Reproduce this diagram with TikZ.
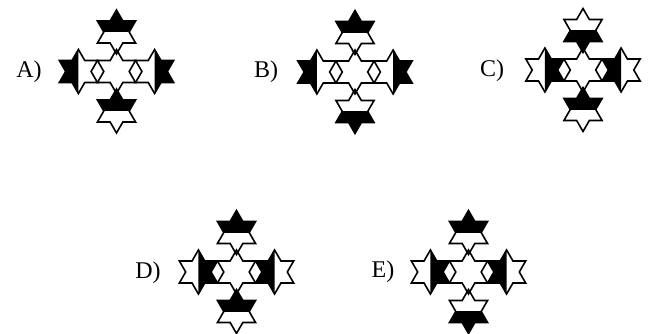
\documentclass[tikz,border=0pt]{standalone}
\usepackage{fontspec}
\setmainfont{Liberation Serif}
\begin{document}
\begin{tikzpicture}[x=1pt,y=1pt,line join=miter,
  lab/.style={font=\fontsize{24}{26}\selectfont,inner sep=0pt},
  outl/.style={draw=black,line width=1.6pt}]
\useasboundingbox (0,0) rectangle (665,334);
\def\Rr{22}
\def\rr{12.7}
\def\dx{38.1}
\def\dy{39.5}
\newcommand\hexpath{(90:\Rr) -- (60:\rr) -- (30:\Rr) -- (0:\rr) -- (-30:\Rr) -- (-60:\rr) -- (-90:\Rr) -- (-120:\rr) -- (-150:\Rr) -- (180:\rr) -- (150:\Rr) -- (120:\rr) -- cycle}
\newcommand\UP{(-30,0) rectangle (30,30)}
\newcommand\DN{(-30,-30) rectangle (30,0)}
\newcommand\LF{(-30,-30) rectangle (0,30)}
\newcommand\RT{(0,-30) rectangle (30,30)}
\newcommand\NO{(0,0) rectangle (0,0)}
\newcommand\hstar[3]{%
  \begin{scope}[shift={(#1,#2)}]
    \begin{scope}\clip #3; \fill[black] \hexpath; \end{scope}
    \draw[outl] \hexpath;
  \end{scope}}
\newcommand\figr[6]{%
  \hstar{#1}{#2+\dy}{#3}
  \hstar{#1-\dx}{#2}{#4}
  \hstar{#1+\dx}{#2}{#5}
  \hstar{#1}{#2-\dy}{#6}
  \hstar{#1}{#2}{\NO}}
% A
\node[lab] (la) at (29,262.5) {A)};
\figr{116.5}{262.5}{\UP}{\LF}{\RT}{\UP}
% B
\node[lab] (lb) at (266,262) {B)};
\figr{355}{262}{\UP}{\LF}{\RT}{\DN}
% C
\node[lab] (lc) at (492,263) {C)};
\figr{583}{264}{\DN}{\RT}{\LF}{\UP}
% D
\node[lab] (ld) at (148,61) {D)};
\figr{236.5}{62}{\UP}{\RT}{\LF}{\UP}
% E
\node[lab] (le) at (383,62) {E)};
\figr{468.5}{62}{\UP}{\RT}{\LF}{\DN}
\end{tikzpicture}
\end{document}
